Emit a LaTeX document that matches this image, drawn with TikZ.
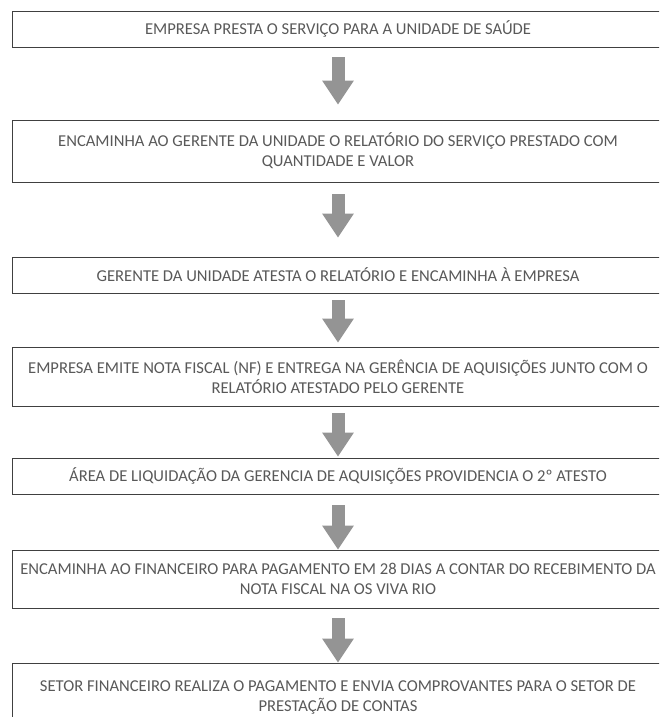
\documentclass[tikz,border=0pt]{standalone}
\usepackage{fontspec}
\setmainfont{Carlito}
\usetikzlibrary{arrows.meta}
\definecolor{inkgray}{gray}{0.35}
\definecolor{linegray}{gray}{0.25}
\definecolor{arrowgray}{gray}{0.58}
\tikzset{
  stepbox/.style={draw=linegray, line width=0.7pt, rectangle, minimum width=652pt,
    inner sep=0pt, text=inkgray, align=center, font=\fontsize{16.6}{20}\selectfont},
  blockarrow/.style={draw=arrowgray, line width=13pt,
    -{Triangle[width=30pt,length=24pt]}}
}
\begin{document}
\begin{tikzpicture}[x=1pt,y=-1pt]
\useasboundingbox (0,0) rectangle (659,717);
\clip (0,0) rectangle (659,717);
\fill[white] (0,0) rectangle (659,717);
\node[stepbox, minimum height=36pt] (b1) at (338,29) {EMPRESA PRESTA O SERVIÇO PARA A UNIDADE DE SAÚDE};
\node[stepbox, minimum height=62pt] (b2) at (338,151) {ENCAMINHA AO GERENTE DA UNIDADE O RELATÓRIO DO SERVIÇO PRESTADO COM\\QUANTIDADE E VALOR};
\node[stepbox, minimum height=36pt] (b3) at (338,275) {GERENTE DA UNIDADE ATESTA O RELATÓRIO E ENCAMINHA À EMPRESA};
\node[stepbox, minimum height=59pt] (b4) at (338,376.5) {EMPRESA EMITE NOTA FISCAL (NF) E ENTREGA NA GERÊNCIA DE AQUISIÇÕES JUNTO COM O\\RELATÓRIO ATESTADO PELO GERENTE};
\node[stepbox, minimum height=36pt] (b5) at (338,476) {ÁREA DE LIQUIDAÇÃO DA GERENCIA DE AQUISIÇÕES PROVIDENCIA O 2º ATESTO};
\node[stepbox, minimum height=58pt] (b6) at (338,579) {ENCAMINHA AO FINANCEIRO PARA PAGAMENTO EM 28 DIAS A CONTAR DO RECEBIMENTO DA\\NOTA FISCAL NA OS VIVA RIO};
\node[stepbox, minimum height=68pt] (b7) at (338,697) {SETOR FINANCEIRO REALIZA O PAGAMENTO E ENVIA COMPROVANTES PARA O SETOR DE\\PRESTAÇÃO DE CONTAS};
\draw[blockarrow, shorten <=10pt, shorten >=15pt] (b1) -- (b2);
\draw[blockarrow, shorten <=12pt, shorten >=19pt] (b2) -- (b3);
\draw[blockarrow, shorten <=7pt, shorten >=4pt] (b3) -- (b4);
\draw[blockarrow, shorten <=7pt, shorten >=1pt] (b4) -- (b5);
\draw[blockarrow, shorten <=11pt, shorten >=0pt] (b5) -- (b6);
\draw[blockarrow, shorten <=10pt, shorten >=0pt] (b6) -- (b7);
\end{tikzpicture}
\end{document}
